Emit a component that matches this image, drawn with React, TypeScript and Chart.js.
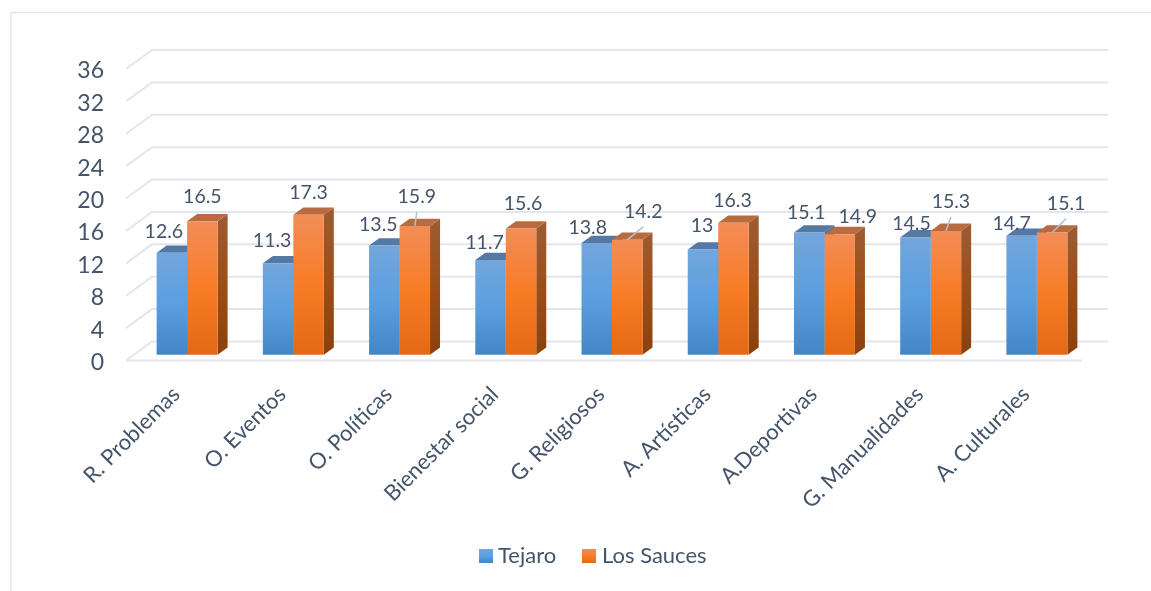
import React, { useEffect, useRef } from "react";
import { Chart, registerables } from "chart.js";

Chart.register(...registerables);

const categories = ["R. Problemas", "O. Eventos", "O. Políticas", "Bienestar social", "G. Religiosos", "A. Artísticas", "A.Deportivas", "G. Manualidades", "A. Culturales"];
const tejaro = [12.6, 11.3, 13.5, 11.7, 13.8, 13, 15.1, 14.5, 14.7];
const losSauces = [16.5, 17.3, 15.9, 15.6, 14.2, 16.3, 14.9, 15.3, 15.1];
const tickValues = [0, 4, 8, 12, 16, 20, 24, 28, 32, 36];

// label placement relative to the top-centre of each bar
const tejaroLabelOffset = [[-8, -22], [-6, -24], [-6, -22], [-6, -18], [-9, -16], [-1, -25], [-3, -21], [-4, -15], [-10, -13]];
const sauceLabelOffset = [[0, -25], [0, -23], [2, -30], [2, -26], [16, -29], [-1, -23], [18, -18], [5, -30], [14, -30]];
const leaderFlags = [false, false, true, false, true, false, false, true, true];

const FONT = "Lato, Carlito, 'Open Sans', sans-serif";
const TEXT = "#44546a";
const GRID = "#e3e6ed";
const DX = 10;
const DY = 7.3;
const BAR_SHIFT_X = 8;
const BAR_SHIFT_Y = -5.7;
const WALL_X = 26;
const WALL_Y = 19;

function vGrad(ctx: CanvasRenderingContext2D, y0: number, y1: number, stops: string[]) {
  const g = ctx.createLinearGradient(0, y0, 0, y1);
  stops.forEach((c, i) => g.addColorStop(i / (stops.length - 1), c));
  return g;
}

const BLUE = ["#73a6dc", "#5a9fe0", "#4286c8"];
const ORANGE = ["#f38d57", "#f87c26", "#e46914"];
const SIDE = ["#9d5a30", "#9c4d15", "#8a410d"];

function barFill(c: any, stops: string[]) {
  const s = c.chart.scales.y;
  if (!s || c.raw === undefined) return stops[1];
  const t = s.getPixelForValue(c.raw);
  const b = s.getPixelForValue(0);
  if (!Number.isFinite(t) || !Number.isFinite(b)) return stops[1];
  return vGrad(c.chart.ctx, t, b, stops);
}

const threeD = {
  id: "threeD",
  beforeDatasetsDraw(chart: any) {
    const { ctx, scales } = chart;
    const y = scales.y;
    const x = scales.x;
    ctx.save();
    ctx.strokeStyle = GRID;
    ctx.lineWidth = 2;
    tickValues.forEach((v) => {
      const py = y.getPixelForValue(v);
      ctx.beginPath();
      ctx.moveTo(x.left, py);
      ctx.lineTo(x.left + WALL_X, py - WALL_Y);
      ctx.lineTo(x.right + WALL_X, py - WALL_Y);
      ctx.stroke();
    });
    const p0 = y.getPixelForValue(0);
    ctx.beginPath();
    ctx.moveTo(x.left, p0);
    ctx.lineTo(x.right, p0);
    ctx.stroke();
    ctx.restore();

    ctx.save();
    ctx.translate(BAR_SHIFT_X, BAR_SHIFT_Y);
    [0, 1].forEach((ds) => {
      const meta = chart.getDatasetMeta(ds);
      meta.data.forEach((bar: any) => {
        const l = bar.x - bar.width / 2;
        const r = bar.x + bar.width / 2;
        const t = bar.y;
        const b = bar.base;
        // side
        ctx.fillStyle = ds === 0 ? "#3f6f9f" : vGrad(ctx, t, b, SIDE);
        ctx.beginPath();
        ctx.moveTo(r, t);
        ctx.lineTo(r + DX, t - DY);
        ctx.lineTo(r + DX, b - DY);
        ctx.lineTo(r, b);
        ctx.closePath();
        ctx.fill();
        // top
        ctx.fillStyle = ds === 0 ? "#5479a5" : "#b96b40";
        ctx.beginPath();
        ctx.moveTo(l, t);
        ctx.lineTo(l + DX, t - DY);
        ctx.lineTo(r + DX, t - DY);
        ctx.lineTo(r, t);
        ctx.closePath();
        ctx.fill();
      });
    });
    ctx.restore();
    ctx.save();
    ctx.translate(BAR_SHIFT_X, BAR_SHIFT_Y);
  },
  afterDatasetsDraw(chart: any) {
    const { ctx } = chart;
    ctx.restore();
    ctx.save();
    ctx.font = `19.5px ${FONT}`;
    ctx.textAlign = "center";
    ctx.textBaseline = "middle";
    [
      { ds: 0, values: tejaro, off: tejaroLabelOffset },
      { ds: 1, values: losSauces, off: sauceLabelOffset },
    ].forEach(({ ds, values, off }) => {
      chart.getDatasetMeta(ds).data.forEach((bar: any, i: number) => {
        const cx = bar.x + BAR_SHIFT_X;
        const cy = bar.y + BAR_SHIFT_Y;
        const lx = cx + off[i][0];
        const ly = cy + off[i][1];
        if (ds === 1 && leaderFlags[i]) {
          ctx.strokeStyle = "#b4bfcc";
          ctx.lineWidth = 1.5;
          ctx.beginPath();
          ctx.moveTo(cx, cy);
          ctx.lineTo(lx, ly + 16);
          ctx.stroke();
        }
        ctx.fillStyle = TEXT;
        ctx.fillText(String(values[i]), lx, ly + 1);
      });
    });
    ctx.restore();
  },
};

const frame = {
  id: "frame",
  beforeDraw(chart: any) {
    const { ctx, width, height } = chart;
    ctx.save();
    ctx.fillStyle = "#ffffff";
    ctx.fillRect(0, 0, width, height);
    ctx.strokeStyle = "#e2e6ee";
    ctx.lineWidth = 1.5;
    ctx.beginPath();
    ctx.moveTo(11, height);
    ctx.lineTo(11, 12.5);
    ctx.lineTo(width, 12.5);
    ctx.stroke();
    ctx.restore();
  },
};

const legendBoxes = [
  { boxX: 479, textX: 498, stops: BLUE },
  { boxX: 582, textX: 602, stops: ORANGE },
];

const sideLegend = {
  id: "sideLegend",
  afterDraw(chart: any) {
    const { ctx } = chart;
    ctx.save();
    ctx.font = `22px ${FONT}`;
    ctx.textBaseline = "middle";
    ctx.textAlign = "left";
    chart.data.datasets.forEach((d: any, i: number) => {
      const item = legendBoxes[i];
      ctx.fillStyle = vGrad(ctx, 549, 563, item.stops);
      ctx.fillRect(item.boxX, 549, 14, 14);
      ctx.fillStyle = TEXT;
      ctx.fillText(d.label, item.textX, 556);
    });
    ctx.restore();
  },
};

export default function App() {
  const ref = useRef<HTMLCanvasElement>(null);
  useEffect(() => {
    const canvas = ref.current!;
    const chart = new Chart(canvas, {
      type: "bar",
      data: {
        labels: categories,
        datasets: [
          {
            label: "Tejaro",
            data: tejaro,
            clip: false,
            backgroundColor: (c: any) => barFill(c, BLUE),
          },
          {
            label: "Los Sauces",
            data: losSauces,
            clip: false,
            backgroundColor: (c: any) => barFill(c, ORANGE),
          },
        ] as any,
      },
      options: {
        responsive: false,
        animation: false,
        devicePixelRatio: 1,
        barPercentage: 1,
        categoryPercentage: 0.574,
        layout: { padding: { left: 0, right: 69, top: 69, bottom: 0 } },
        plugins: {
          tooltip: { enabled: false },
          legend: { display: false },
        },
        scales: {
          x: {
            grid: { display: false },
            border: { display: false },
            afterFit: (s: any) => { s.height = 230.5; },
            ticks: {
              minRotation: 45,
              maxRotation: 45,
              autoSkip: false,
              padding: 13,
              labelOffset: -3,
              color: TEXT,
              font: { family: FONT, size: 22 },
            },
          },
          y: {
            min: 0,
            max: 36,
            grid: { display: false },
            border: { display: false },
            afterFit: (s: any) => { s.width = 126; },
            afterBuildTicks: (s: any) => { s.ticks = tickValues.map((v) => ({ value: v })); },
            ticks: {
              padding: 14,
              labelOffset: 2,
              color: TEXT,
              font: { family: FONT, size: 23 },
            },
          },
        },
      } as any,
      plugins: [frame, threeD, sideLegend],
    });
    return () => chart.destroy();
  }, []);
  return (
    <canvas
      ref={ref}
      width={1151}
      height={591}
      style={{ position: "fixed", left: 0, top: 0, width: 1151, height: 591, display: "block" }}
    />
  );
}
